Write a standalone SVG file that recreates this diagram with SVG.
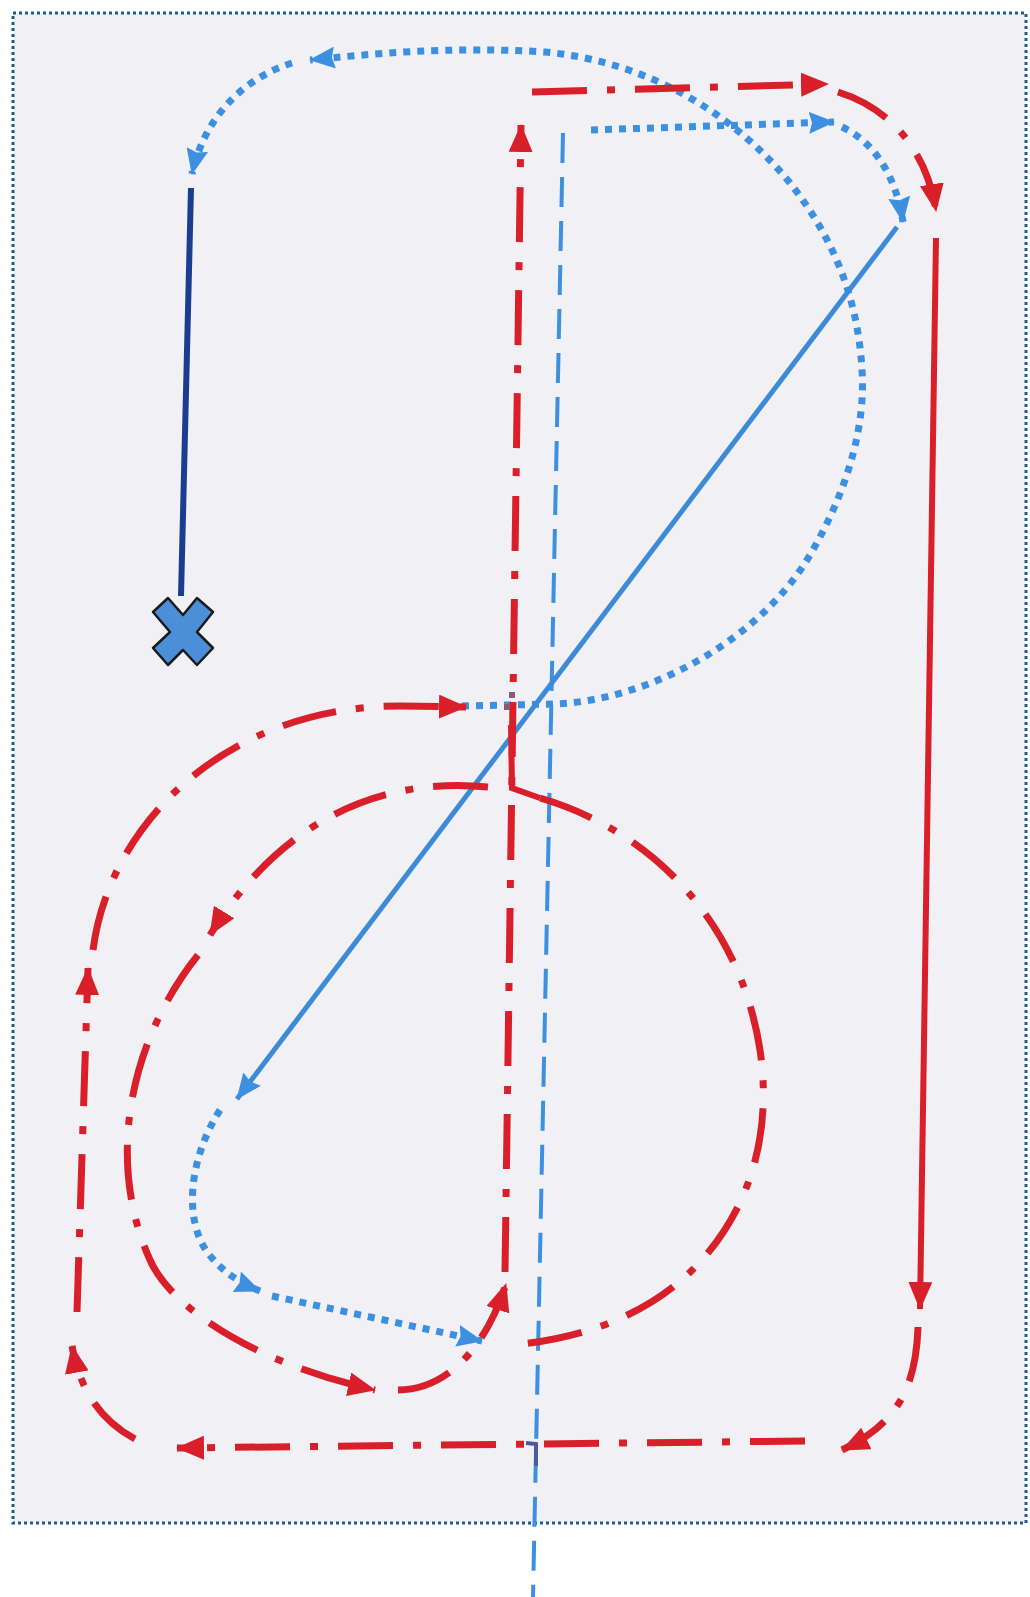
<svg xmlns="http://www.w3.org/2000/svg" width="1030" height="1597" viewBox="0 0 1030 1597">
<defs>
<marker id="ar" markerUnits="userSpaceOnUse" markerWidth="28" markerHeight="24" viewBox="0 0 28 24" refX="27" refY="12" orient="auto"><path d="M0,0 L28,12 L0,24 z" fill="#d9202a"/></marker>
<marker id="ab" markerUnits="userSpaceOnUse" markerWidth="26" markerHeight="22" viewBox="0 0 26 22" refX="25" refY="11" orient="auto"><path d="M0,0 L26,11 L0,22 L3,11 z" fill="#3d8fdf"/></marker>
</defs>
<style>
.red{fill:none;stroke:#d9202a;stroke-width:7;stroke-dasharray:55 20 8 20}
.reds{fill:none;stroke:#d9202a;stroke-width:6}
.dot{fill:none;stroke:#3d8fdf;stroke-width:7;stroke-dasharray:7 7}
.dash{fill:none;stroke:#3d8fdf;stroke-width:4;stroke-dasharray:30 14}
.sol{fill:none;stroke:#3d8ad8;stroke-width:5}
.ra{marker-end:url(#ar)}
.ba{marker-end:url(#ab)}
</style>
<rect x="0" y="0" width="1030" height="1597" fill="#ffffff"/>
<rect id="field" x="13" y="13" width="1013" height="1510" fill="#f0f0f5" stroke="#1d5c8c" stroke-width="3" stroke-dasharray="3 3"/>
<g id="connectors">
<path class="dash" d="M563,133 L533,1597"/>
<path d="M526,1443 L536,1444 L536,1466" fill="none" stroke="#4a5a9a" stroke-width="4"/>
<path class="dot ba" d="M462,706 L555,704 C650,700 760,640 810,555 C845,495 866,430 862,370 C858,300 835,240 790,183 C735,115 650,62 545,52 C450,46 370,54 310,60"/>
<path class="dot ba" d="M292,63 C245,78 205,115 192,174"/>
<path class="dot ba" d="M591,130 L834,122"/>
<path class="dot ba" d="M842,127 C870,140 895,170 903,222"/>
<path class="sol ba" d="M897,227 L237,1099"/>
<path class="dot ba" d="M220,1110 C188,1160 182,1225 212,1258 C225,1273 240,1283 260,1291"/>
<path class="dot ba" d="M272,1296 L482,1341"/>
<path class="red ra" d="M532,92 L828,84"/>
<path class="red ra" d="M838,92 C880,105 925,140 936,211"/>
<path class="reds ra" d="M936,238 L920,1309"/>
<path class="red ra" d="M918,1327 C916,1390 895,1425 842,1450"/>
<path class="red ra" d="M805,1441 L177,1448"/>
<path class="red ra" d="M135,1439 C100,1420 80,1390 72,1346"/>
<path class="red ra" d="M77,1312 L88,968"/>
<path class="red ra" d="M93,950 C110,820 230,706 400,706 L466,707"/>
<path class="red ra" d="M505,1272 L521,125"/>
<path class="reds" d="M511,725 L512,788 L540,798"/>
<path class="red" d="M540,798 C650,830 740,920 760,1050 C772,1130 752,1205 700,1262 C655,1311 590,1338 512,1345"/>
<path class="red ra" d="M488,787 C400,778 290,805 210,935"/>
<path class="red ra" d="M198,955 C130,1040 105,1160 150,1260 C172,1310 260,1365 375,1390"/>
<path class="red ra" d="M398,1390 C445,1390 485,1350 506,1284"/>
<rect x="509" y="692" width="6" height="6" fill="#8a5a7a"/>
<rect x="504" y="704" width="6" height="6" fill="#8a5a7a"/>
</g>
<g id="skater-line">
<path d="M191,188 L181,596" fill="none" stroke="#1a3d8f" stroke-width="6"/>
</g>
<g id="start-x">
<polygon points="153,612 168,598 183,615 197,598 213,612 197,632 213,648 197,665 183,650 168,665 153,648 170,632" fill="#4a8fd8" stroke="#1a1a1a" stroke-width="2.5" stroke-linejoin="round"/>
</g>
</svg>
